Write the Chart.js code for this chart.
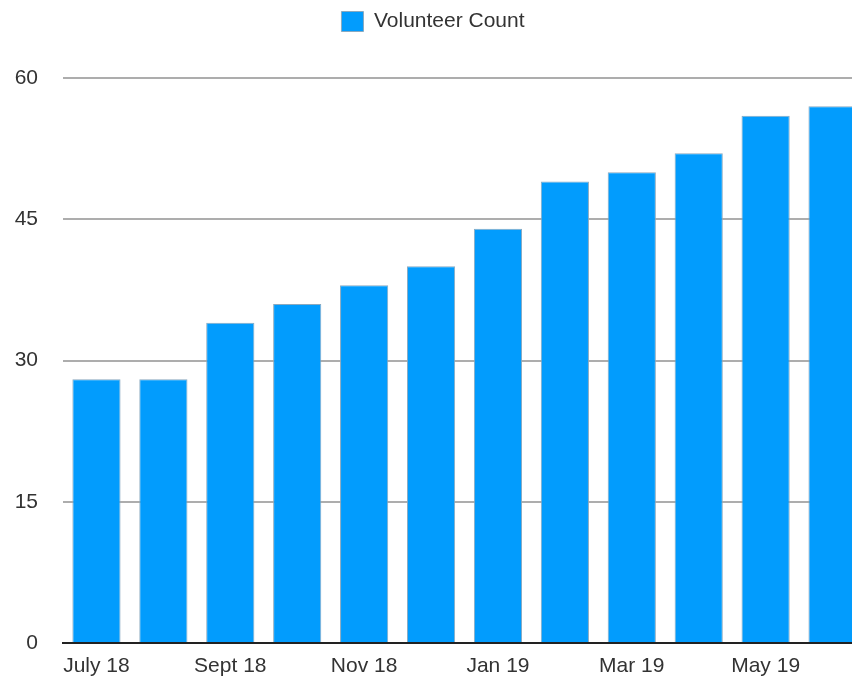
<!DOCTYPE html>
<html>
<head>
<meta charset="utf-8">
<script src="https://cdn.jsdelivr.net/npm/chart.js@4/dist/chart.umd.min.js"></script>
<style>
  html, body { margin: 0; padding: 0; background: #fff; overflow: hidden; }
  #wrap { position: relative; width: 866px; height: 677px; }
</style>
</head>
<body>
<div id="wrap"><canvas id="ctx_volunteers"></canvas></div>
<script>
const months = ['July 18', 'Aug 18', 'Sept 18', 'Oct 18', 'Nov 18', 'Dec 18',
                'Jan 19', 'Feb 19', 'Mar 19', 'Apr 19', 'May 19', 'June 19']
const volunteer_count = [28, 28, 34, 36, 38, 40, 44, 49, 50, 52, 56, 57]
const y_ticks = [0, 15, 30, 45, 60]

Chart.defaults.font.family = '"Liberation Sans", Arial, sans-serif'
Chart.defaults.color = '#333'

// legend takes the top 78px so the plot starts where the 60 line is
const legendSpace = {
    id: 'legendSpace',
    beforeUpdate(chart) {
        const lg = chart.legend
        if (lg && !lg._patched) {
            const fit = lg.fit
            lg.fit = function () { fit.call(this); this.height = 78 }
            lg._patched = true
        }
    }
}

new Chart(document.getElementById('ctx_volunteers').getContext('2d'), {
    type: 'bar',
    data: {
        labels: months,
        datasets: [{
            label: 'Volunteer Count',
            data: volunteer_count,
            backgroundColor: '#029cfd',
            borderColor: '#8aa9bf',
            borderWidth: 1,
            barPercentage: 0.72,
            categoryPercentage: 1
        }]
    },
    plugins: [legendSpace],
    options: {
        responsive: true,
        maintainAspectRatio: false,
        animation: false,
        layout: { padding: 0 },
        plugins: {
            legend: {
                position: 'top',
                labels: {
                    boxWidth: 22,
                    boxHeight: 20,
                    padding: 11,
                    font: { size: 21 },
                    color: '#333'
                }
            },
            tooltip: { enabled: false }
        },
        scales: {
            x: {
                grid: { display: false, drawTicks: false },
                border: { display: true, color: '#222', width: 2 },
                ticks: {
                    autoSkip: false,
                    maxRotation: 0,
                    padding: 11,
                    font: { size: 21 },
                    callback: (v, i) => i % 2 === 0 ? months[i] : ''
                },
                afterFit: s => { s.height = 34 }
            },
            y: {
                min: 0,
                max: 60,
                afterBuildTicks: s => { s.ticks = y_ticks.map(v => ({ value: v })) },
                grid: { color: '#adadad', lineWidth: 2, drawTicks: false },
                border: { display: false },
                ticks: { padding: 25, font: { size: 21 } },
                afterFit: s => {
                    s.width = 63
                    s.paddingTop = 0
                    s.paddingBottom = 0
                }
            }
        }
    }
})
</script>
</body>
</html>
